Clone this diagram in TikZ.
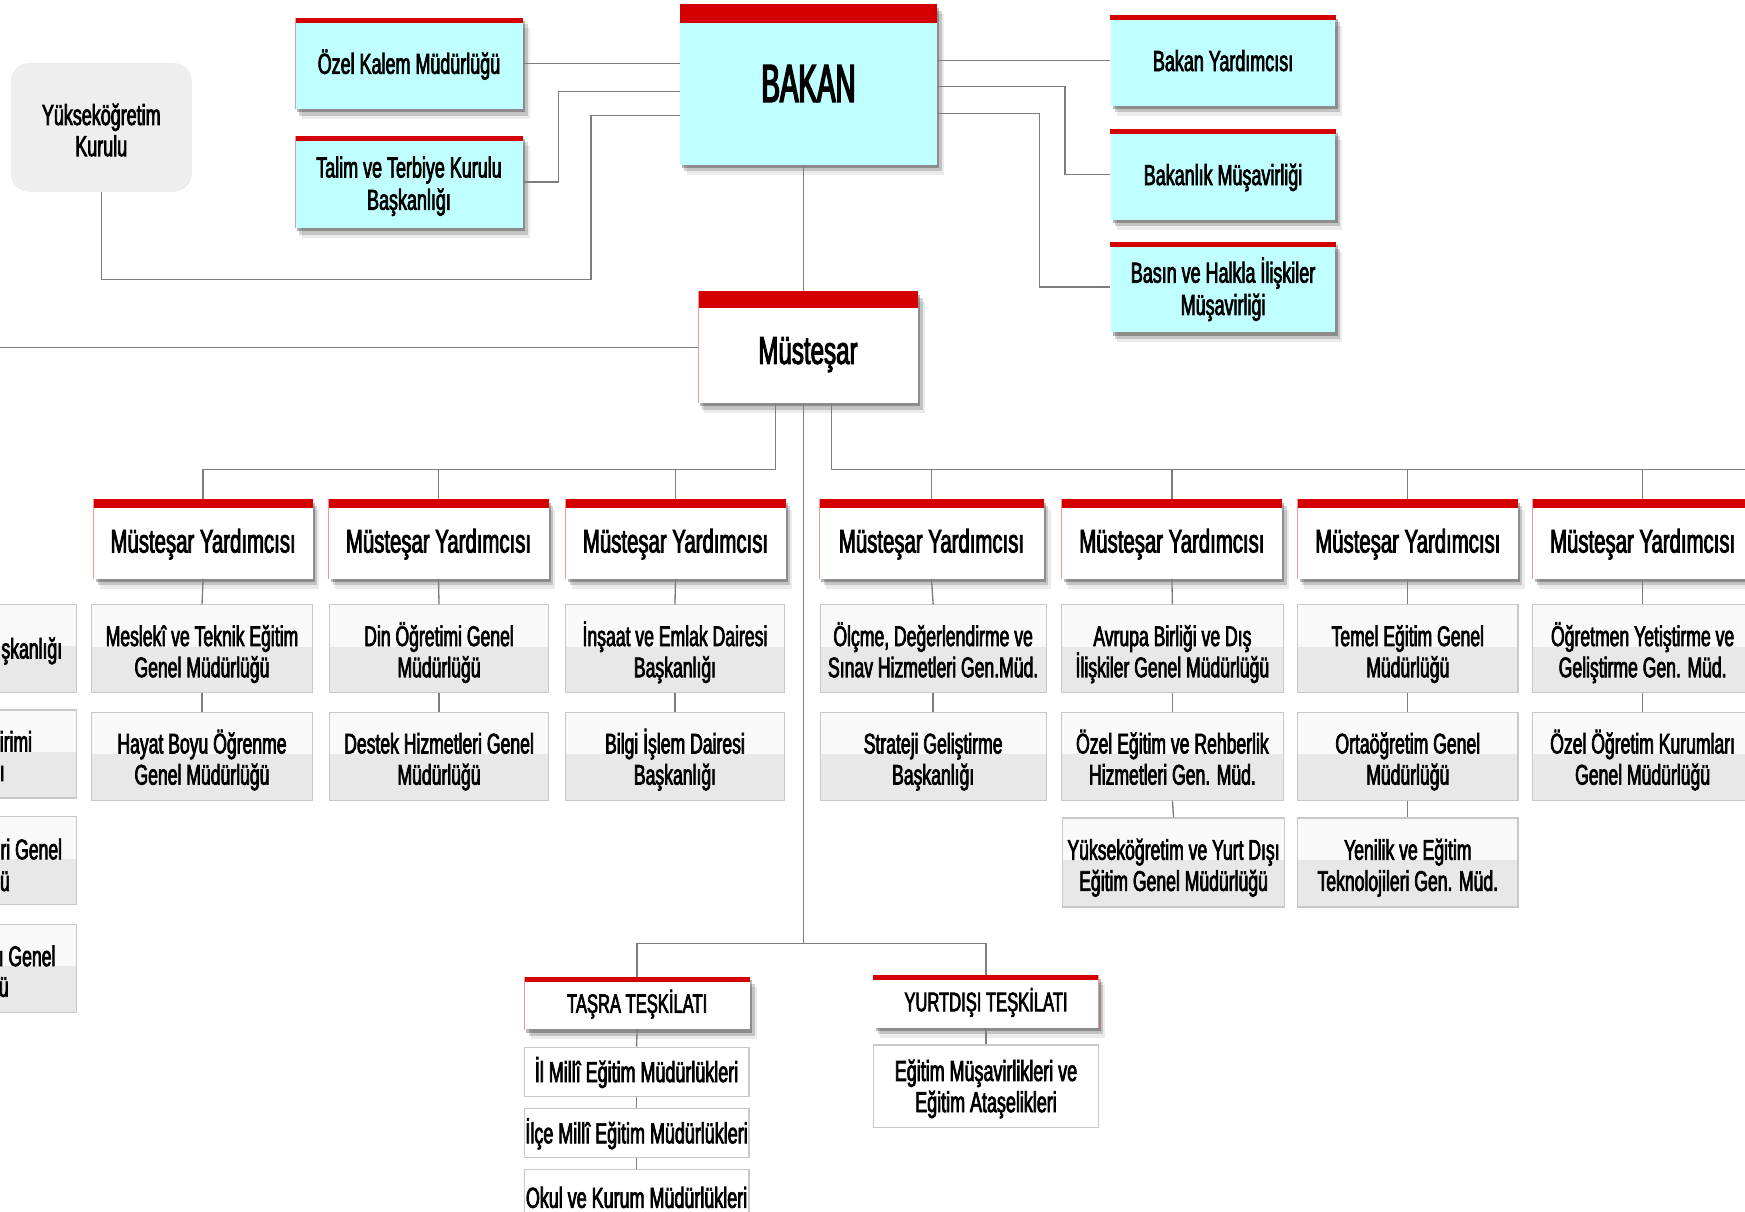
\documentclass[tikz,border=0pt]{standalone}
\usepackage{fontspec}
\setmainfont{Liberation Sans}[FakeStretch=0.62,FakeBold=2.5]
\newfontfamily\bakanfont{Liberation Sans}[FakeStretch=0.52,FakeBold=3]
\usetikzlibrary{shadows}
\definecolor{cyanfill}{RGB}{192,255,255}
\definecolor{barred}{RGB}{212,0,0}
\definecolor{linegray}{RGB}{125,125,125}
\definecolor{subborder}{RGB}{200,200,200}
\definecolor{subtop}{RGB}{249,249,249}
\definecolor{subbot}{RGB}{232,232,232}
\definecolor{yokfill}{RGB}{238,238,238}
\begin{document}
\begin{tikzpicture}[x=1pt,y=-1pt,
  conn/.style={draw=linegray,line width=1.2pt},
  boxbase/.style={rectangle,inner sep=0pt,align=center,text=black,text depth=0pt},
  shad/.style={drop shadow={shadow xshift=2pt,shadow yshift=-3pt,opacity=.28,fill=black},
               drop shadow={shadow xshift=4pt,shadow yshift=-6pt,opacity=.17,fill=black},
               drop shadow={shadow xshift=6pt,shadow yshift=-9pt,opacity=.08,fill=black}},
  cyanbox/.style={boxbase,shad,fill=cyanfill,minimum width=205pt,font=\fontsize{26}{29}\selectfont,text height=18.6pt},
  twoline/.style={text height=50pt},
  whitebox/.style={boxbase,shad,fill=white},
  mybox/.style={whitebox,minimum width=198pt,minimum height=71pt,font=\fontsize{29.5}{32}\selectfont,text height=24pt},
  teskbox/.style={whitebox,minimum width=203pt,minimum height=47pt,font=\fontsize{24}{27}\selectfont,text height=17.2pt},
  subbox/.style={boxbase,fill=subbot,draw=subborder,line width=1pt,minimum width=198pt,minimum height=79pt,
    font=\fontsize{25.5}{28}\selectfont,text height=51pt,
    path picture={\fill[subtop] (path picture bounding box.north west) rectangle ([yshift=2pt]path picture bounding box.east);}},
  plainbox/.style={boxbase,fill=white,draw=subborder,line width=1pt,minimum width=202pt,
    font=\fontsize{26}{28}\selectfont,text height=18.6pt},
  frag/.style={inner sep=0pt,anchor=east,font=\fontsize{25.5}{28}\selectfont},
  yokbox/.style={boxbase,fill=yokfill,draw=black!8,rounded corners=16pt,minimum width=162pt,minimum height=115pt,
    font=\fontsize{26}{28}\selectfont,text height=51.6pt}
]
\useasboundingbox (0,0) rectangle (1568,1089);
\fill[white] (0,0) rectangle (1568,1089);

% top level
\node[yokbox] (yok) at (91,114.5) {Yükseköğretim\\Kurulu};
\node[cyanbox,minimum height=82pt] (ozel) at (367.5,57) {Özel Kalem Müdürlüğü};
\node[cyanbox,twoline,minimum height=83pt] (talim) at (367.5,163.5) {Talim ve Terbiye Kurulu\\Başkanlığı};
\node[cyanbox,minimum width=231pt,minimum height=144pt,font=\bakanfont\fontsize{48}{52}\selectfont,text height=31pt] (bakan) at (726.5,76) {BAKAN};
\node[cyanbox,minimum width=202pt,minimum height=81pt] (yard) at (1099,54.5) {Bakan Yardımcısı};
\node[cyanbox,minimum width=202pt,minimum height=81pt] (bmus) at (1099,157) {Bakanlık Müşavirliği};
\node[cyanbox,twoline,minimum width=202pt,minimum height=81pt] (basin) at (1099,258) {Basın ve Halkla İlişkiler\\Müşavirliği};

\node[whitebox,minimum width=198pt,minimum height=100pt,font=\fontsize{35}{38}\selectfont,text height=30pt] (mus) at (726,312) {Müsteşar};

% deputies
\node[mybox,minimum width=197pt] (my1) at (182.5,484.5) {Müsteşar Yardımcısı};
\node[mybox] (my2) at (394,484.5) {Müsteşar Yardımcısı};
\node[mybox] (my3) at (607,484.5) {Müsteşar Yardımcısı};
\node[mybox,minimum width=202pt] (my4) at (837,484.5) {Müsteşar Yardımcısı};
\node[mybox] (my5) at (1053,484.5) {Müsteşar Yardımcısı};
\node[mybox] (my6) at (1265,484.5) {Müsteşar Yardımcısı};
\node[mybox] (my7) at (1476,484.5) {Müsteşar Yardımcısı};

% units
\node[subbox,minimum width=199pt] (s11) at (181.5,583) {Meslekî ve Teknik Eğitim\\Genel Müdürlüğü};
\node[subbox,minimum width=199pt] (s12) at (181.5,679.5) {Hayat Boyu Öğrenme\\Genel Müdürlüğü};
\node[subbox,minimum width=197pt] (s21) at (394.5,583) {Din Öğretimi Genel\\Müdürlüğü};
\node[subbox,minimum width=197pt] (s22) at (394.5,679.5) {Destek Hizmetleri Genel\\Müdürlüğü};
\node[subbox,minimum width=197pt] (s31) at (606.5,583) {İnşaat ve Emlak Dairesi\\Başkanlığı};
\node[subbox,minimum width=197pt] (s32) at (606.5,679.5) {Bilgi İşlem Dairesi\\Başkanlığı};
\node[subbox,minimum width=203pt] (s41) at (838.5,583) {Ölçme, Değerlendirme ve\\Sınav Hizmetleri Gen.Müd.};
\node[subbox,minimum width=203pt] (s42) at (838.5,679.5) {Strateji Geliştirme\\Başkanlığı};
\node[subbox,minimum width=199pt] (s51) at (1053.5,583) {Avrupa Birliği ve Dış\\İlişkiler Genel Müdürlüğü};
\node[subbox,minimum width=199pt] (s52) at (1053.5,679.5) {Özel Eğitim ve Rehberlik\\Hizmetleri Gen. Müd.};
\node[subbox,minimum width=199pt,minimum height=80pt] (s53) at (1054.5,775) {Yükseköğretim ve Yurt Dışı\\Eğitim Genel Müdürlüğü};
\node[subbox] (s61) at (1265,583) {Temel Eğitim Genel\\Müdürlüğü};
\node[subbox] (s62) at (1265,679.5) {Ortaöğretim Genel\\Müdürlüğü};
\node[subbox,minimum height=80pt] (s63) at (1265,775) {Yenilik ve Eğitim\\Teknolojileri Gen. Müd.};
\node[subbox] (s71) at (1476,583) {Öğretmen Yetiştirme ve\\Geliştirme Gen. Müd.};
\node[subbox] (s72) at (1476,679.5) {Özel Öğretim Kurumları\\Genel Müdürlüğü};

% left column, cut by the page edge
\node[subbox] (l1) at (-30,582.5) {};
\node[subbox] (l2) at (-30,677.5) {};
\node[subbox] (l3) at (-30,773.5) {};
\node[subbox] (l4) at (-30,870) {};
\node[frag] (l1a) at (56,585) {şkanlığı};
\node[frag] (l2a) at (29,666) {irimi};
\node[frag] (l2b) at (4.5,695) {ı};
\node[frag] (l3a) at (56,763) {ri Genel};
\node[frag] (l3b) at (9,792) {ü};
\node[frag] (l4a) at (50,859) {ı Genel};
\node[frag] (l4b) at (8,887) {ü};

% provincial / abroad
\node[teskbox] (tasra) at (572.5,901.5) {TAŞRA TEŞKİLATI};
\node[plainbox,minimum height=44pt] (il) at (572,963) {İl Millî Eğitim Müdürlükleri};
\node[plainbox,minimum height=44pt] (ilce) at (572,1018) {İlçe Millî Eğitim Müdürlükleri};
\node[plainbox,minimum height=50pt] (okul) at (572,1076) {Okul ve Kurum Müdürlükleri};
\node[teskbox,minimum width=202pt] (yurt) at (886,900) {YURTDIŞI TEŞKİLATI};
\node[plainbox,minimum height=74pt,text height=46.6pt] (egm) at (886,976) {Eğitim Müşavirlikleri ve\\Eğitim Ataşelikleri};

% red top bars
\foreach \n/\t in {bakan/17,mus/15,ozel/4.5,talim/4.5,yard/4.5,bmus/4.5,basin/4.5,
  my1/7.5,my2/7.5,my3/7.5,my4/7.5,my5/7.5,my6/7.5,my7/7.5,tasra/4.5,yurt/4.5}
  \fill[barred] (\n.north west) rectangle ([yshift=-\t pt]\n.north east);
\foreach \n in {mus,ozel,talim,my1,my2,my3,my4,my5,my6,my7,tasra}
  \draw[barred!40,line width=0.8pt] ([xshift=0.4pt]\n.north west) -- ([xshift=0.4pt]\n.south west);
\draw[barred!40,line width=0.8pt] ([xshift=-0.4pt]yurt.north east) -- ([xshift=-0.4pt]yurt.south east);

% connectors
\coordinate (t1) at (502,82);
\coordinate (y1) at (531,251);
\coordinate (y2) at (531,104);
\coordinate (k1) at (957,78);
\coordinate (k2) at (934,102);
\coordinate (lm) at (0,311);
\coordinate (hL) at (697,422);
\coordinate (hR) at (747,422);
\coordinate (re) at (1568,422);
\coordinate (hC) at (722,848);

\draw[conn] (ozel.east) -- (ozel.east -| bakan.west);
\draw[conn] (talim.east) -| (t1) -- (t1 -| bakan.west);
\draw[conn] (yok.south) |- (y1) -- (y2) -- (y2 -| bakan.west);
\draw[conn] (yard.west) -- (yard.west -| bakan.east);
\draw[conn] (bmus.west) -| (k1) -- (k1 -| bakan.east);
\draw[conn] (basin.west) -| (k2) -- (k2 -| bakan.east);
\draw[conn] ([xshift=-4.5pt]bakan.south) -- ([xshift=-4.5pt]bakan.south |- mus.north);
\draw[conn] (mus.west) -- (mus.west -| lm);

\draw[conn] (hL |- mus.south) -- (hL) -- (hL -| my1.north) -- (my1.north);
\draw[conn] (my2.north) -- (my2.north |- hL);
\draw[conn] (my3.north) -- (my3.north |- hL);
\draw[conn] (hR |- mus.south) -- (hR) -- (re);
\foreach \n in {my4,my5,my6,my7}
  \draw[conn] (\n.north) -- (\n.north |- hR);
\draw[conn] (hC |- mus.south) -- (hC);
\draw[conn] (tasra.north) |- (hC) -| (yurt.north);

\foreach \a/\b in {my1/s11,s11/s12,my2/s21,s21/s22,my3/s31,s31/s32,my4/s41,s41/s42,
  my5/s51,s51/s52,s52/s53,my6/s61,s61/s62,s62/s63,my7/s71,s71/s72,
  tasra/il,il/ilce,ilce/okul,yurt/egm}
  \draw[conn] (\a.south) -- (\b.north);
\end{tikzpicture}
\end{document}
